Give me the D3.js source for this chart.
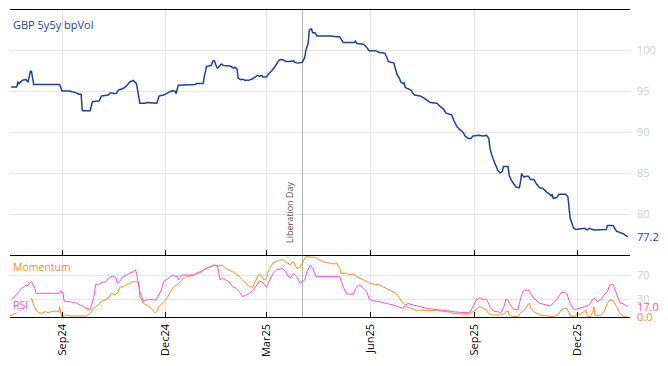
<!DOCTYPE html>
<html><head><meta charset="utf-8">
<script src="https://cdn.jsdelivr.net/npm/d3@7"></script>
<style>body{margin:0;background:#fff}svg{display:block}text{font-family:"Open Sans",sans-serif}</style>
</head><body><svg id="c" width="668" height="366"></svg>
<script>
const seriesName = "GBP 5y5y bpVol";
const volSeries = [["2024-07-18",95.5],["2024-07-23",95.5],["2024-07-24",96.1],["2024-07-25",95.9],["2024-07-28",96.3],["2024-07-31",96.4],["2024-08-02",96.1],["2024-08-04",97.4],["2024-08-05",97.4],["2024-08-07",95.8],["2024-08-30",95.8],["2024-09-01",95.0],["2024-09-08",95.0],["2024-09-10",94.9],["2024-09-13",94.8],["2024-09-16",94.6],["2024-09-18",94.6],["2024-09-19",92.6],["2024-09-26",92.6],["2024-09-28",93.7],["2024-10-04",93.8],["2024-10-06",94.4],["2024-10-12",94.5],["2024-10-14",94.8],["2024-10-17",94.7],["2024-10-19",94.7],["2024-10-21",95.1],["2024-10-25",95.3],["2024-10-28",95.6],["2024-10-31",96.1],["2024-11-03",96.3],["2024-11-06",95.9],["2024-11-09",93.5],["2024-11-13",93.5],["2024-11-16",93.6],["2024-11-24",93.5],["2024-11-26",94.4],["2024-11-30",94.5],["2024-12-04",94.8],["2024-12-07",95.0],["2024-12-10",95.0],["2024-12-11",94.7],["2024-12-13",95.7],["2024-12-28",95.8],["2024-12-29",95.9],["2025-01-04",95.9],["2025-01-05",96.7],["2025-01-07",98.0],["2025-01-11",98.1],["2025-01-13",98.7],["2025-01-14",98.7],["2025-01-16",97.9],["2025-01-17",97.8],["2025-01-20",98.3],["2025-01-22",98.1],["2025-01-28",98.05],["2025-01-31",97.8],["2025-02-01",97.9],["2025-02-03",97.7],["2025-02-04",96.6],["2025-02-06",96.4],["2025-02-09",96.4],["2025-02-10",96.3],["2025-02-13",96.3],["2025-02-17",96.5],["2025-02-21",96.9],["2025-02-23",96.8],["2025-02-25",96.9],["2025-02-26",96.7],["2025-03-01",96.7],["2025-03-03",97.1],["2025-03-06",97.5],["2025-03-09",98.05],["2025-03-12",98.7],["2025-03-13",98.8],["2025-03-16",98.8],["2025-03-18",98.6],["2025-03-22",98.6],["2025-03-25",98.7],["2025-03-26",98.5],["2025-03-29",98.4],["2025-04-02",98.5],["2025-04-04",99.1],["2025-04-05",99.96],["2025-04-07",100.8],["2025-04-08",102.4],["2025-04-10",102.6],["2025-04-11",102.1],["2025-04-13",102.1],["2025-04-15",101.7],["2025-04-26",101.7],["2025-05-05",101.6],["2025-05-08",100.9],["2025-05-18",100.9],["2025-05-19",101.1],["2025-05-20",100.8],["2025-05-26",100.7],["2025-05-29",100.3],["2025-05-31",99.9],["2025-06-06",99.9],["2025-06-09",99.7],["2025-06-14",99.6],["2025-06-16",99.0],["2025-06-17",98.6],["2025-06-22",98.4],["2025-06-23",97.8],["2025-06-25",96.95],["2025-06-27",96.5],["2025-06-28",96.1],["2025-06-30",95.9],["2025-07-01",96.0],["2025-07-02",95.45],["2025-07-04",95.3],["2025-07-07",95.1],["2025-07-10",94.5],["2025-07-15",94.4],["2025-07-18",94.2],["2025-07-21",93.9],["2025-07-24",93.6],["2025-07-30",93.5],["2025-08-02",93.1],["2025-08-05",92.8],["2025-08-07",92.3],["2025-08-12",92.1],["2025-08-14",91.4],["2025-08-17",90.6],["2025-08-20",90.2],["2025-08-22",90.0],["2025-08-24",89.5],["2025-08-27",89.2],["2025-08-29",89.2],["2025-08-31",89.5],["2025-09-05",89.6],["2025-09-09",89.5],["2025-09-12",89.6],["2025-09-14",89.2],["2025-09-15",88.0],["2025-09-17",87.0],["2025-09-19",86.3],["2025-09-22",85.3],["2025-09-24",85.0],["2025-09-26",85.2],["2025-09-27",85.8],["2025-10-01",85.8],["2025-10-02",84.7],["2025-10-04",84.1],["2025-10-05",83.9],["2025-10-08",83.3],["2025-10-11",83.2],["2025-10-12",83.9],["2025-10-13",84.9],["2025-10-15",84.5],["2025-10-17",84.6],["2025-10-19",84.6],["2025-10-21",84.2],["2025-10-24",84.2],["2025-10-26",83.7],["2025-10-29",83.2],["2025-11-01",83.1],["2025-11-04",82.7],["2025-11-07",82.4],["2025-11-08",82.2],["2025-11-09",82.4],["2025-11-10",81.9],["2025-11-13",82.0],["2025-11-15",82.4],["2025-11-21",82.4],["2025-11-23",82.1],["2025-11-25",79.5],["2025-11-28",78.3],["2025-11-30",78.1],["2025-12-08",78.25],["2025-12-10",78.05],["2025-12-12",78.25],["2025-12-16",78.05],["2025-12-27",78.1],["2025-12-28",78.6],["2026-01-02",78.6],["2026-01-05",77.9],["2026-01-09",77.7],["2026-01-11",77.6],["2026-01-15",77.2]];

const rsiSeries = [["2024-07-18",28.4],["2024-07-25",42.2],["2024-07-27",47.8],["2024-07-30",50.6],["2024-07-31",53.4],["2024-08-02",51.7],["2024-08-03",56.1],["2024-08-05",58.9],["2024-08-08",47.8],["2024-08-09",39.5],["2024-08-30",39.5],["2024-08-31",43.9],["2024-09-02",39.5],["2024-09-03",25.6],["2024-09-08",25.6],["2024-09-14",22.8],["2024-09-20",17.3],["2024-09-24",12.8],["2024-09-26",12.8],["2024-09-29",31.1],["2024-10-01",54.5],["2024-10-04",54.5],["2024-10-06",57.3],["2024-10-10",58.9],["2024-10-12",64.5],["2024-10-16",68.4],["2024-10-19",64.5],["2024-10-20",56.1],["2024-10-22",58.9],["2024-10-25",67.3],["2024-10-30",71.7],["2024-11-03",75.6],["2024-11-05",78.4],["2024-11-06",72.8],["2024-11-09",42.2],["2024-11-12",25.6],["2024-11-15",28.4],["2024-11-18",29.5],["2024-11-21",28.4],["2024-11-23",28.4],["2024-11-25",33.9],["2024-11-28",45.0],["2024-11-30",58.9],["2024-12-03",62.8],["2024-12-06",67.3],["2024-12-09",70.0],["2024-12-10",67.3],["2024-12-12",68.4],["2024-12-13",61.7],["2024-12-16",70.0],["2024-12-27",70.0],["2024-12-30",73.9],["2025-01-02",75.6],["2025-01-07",81.1],["2025-01-11",83.9],["2025-01-14",86.7],["2025-01-17",83.9],["2025-01-19",61.7],["2025-01-21",64.5],["2025-01-24",61.7],["2025-01-27",58.9],["2025-01-30",50.6],["2025-02-02",47.8],["2025-02-05",42.2],["2025-02-08",33.9],["2025-02-11",36.7],["2025-02-14",39.5],["2025-02-17",43.9],["2025-02-20",51.7],["2025-02-23",60.6],["2025-02-26",57.3],["2025-03-01",49.5],["2025-03-04",61.7],["2025-03-07",72.8],["2025-03-10",78.4],["2025-03-15",81.1],["2025-03-18",75.6],["2025-03-21",66.2],["2025-03-22",64.5],["2025-03-25",72.8],["2025-03-28",67.3],["2025-03-31",56.1],["2025-04-02",58.9],["2025-04-04",61.7],["2025-04-06",75.6],["2025-04-09",86.7],["2025-04-11",81.1],["2025-04-14",67.3],["2025-04-17",67.3],["2025-05-05",67.3],["2025-05-08",50.6],["2025-05-11",38.4],["2025-05-17",37.8],["2025-05-20",50.6],["2025-05-23",53.4],["2025-05-26",47.8],["2025-05-29",42.2],["2025-05-31",29.5],["2025-06-03",27.3],["2025-06-09",25.6],["2025-06-15",22.8],["2025-06-21",20.0],["2025-06-27",16.1],["2025-06-30",14.5],["2025-07-03",20.0],["2025-07-04",22.8],["2025-07-09",20.0],["2025-07-15",17.3],["2025-07-21",14.5],["2025-07-27",12.8],["2025-08-01",11.7],["2025-08-07",10.6],["2025-08-13",8.9],["2025-08-19",7.8],["2025-08-28",7.3],["2025-08-31",17.3],["2025-09-03",28.4],["2025-09-06",32.3],["2025-09-09",28.4],["2025-09-12",29.5],["2025-09-15",17.3],["2025-09-18",10.0],["2025-09-22",8.4],["2025-09-25",7.8],["2025-09-28",20.0],["2025-09-29",29.5],["2025-10-01",28.4],["2025-10-03",20.0],["2025-10-06",12.8],["2025-10-10",11.7],["2025-10-11",22.8],["2025-10-14",42.2],["2025-10-17",45.0],["2025-10-20",43.9],["2025-10-21",39.5],["2025-10-24",31.1],["2025-10-29",22.8],["2025-11-04",20.0],["2025-11-07",18.4],["2025-11-10",22.8],["2025-11-14",31.1],["2025-11-17",40.6],["2025-11-20",40.6],["2025-11-22",39.5],["2025-11-25",22.8],["2025-11-28",12.8],["2025-11-30",12.8],["2025-12-03",14.5],["2025-12-08",17.3],["2025-12-12",20.0],["2025-12-15",29.5],["2025-12-17",31.1],["2025-12-19",25.6],["2025-12-22",28.4],["2025-12-25",36.7],["2025-12-28",42.2],["2025-12-30",53.4],["2026-01-02",54.5],["2026-01-05",39.5],["2026-01-08",23.9],["2026-01-12",21.1],["2026-01-15",17.0]];

const momentumSeries = [["2024-07-17",1.7],["2024-07-25",8.9],["2024-07-30",17.3],["2024-08-03",25.6],["2024-08-05",31.1],["2024-08-07",20.0],["2024-08-09",11.7],["2024-08-11",7.3],["2024-08-14",6.1],["2024-08-17",8.9],["2024-08-20",7.3],["2024-08-23",8.9],["2024-08-26",10.0],["2024-08-29",8.9],["2024-08-30",17.3],["2024-08-31",6.1],["2024-09-01",0.6],["2024-09-03",1.7],["2024-09-04",3.4],["2024-09-08",1.7],["2024-09-23",1.7],["2024-09-26",6.1],["2024-09-29",14.5],["2024-10-03",20.0],["2024-10-06",25.6],["2024-10-09",28.4],["2024-10-12",31.1],["2024-10-15",39.5],["2024-10-18",36.7],["2024-10-21",42.2],["2024-10-22",49.5],["2024-10-25",50.6],["2024-10-28",53.4],["2024-10-31",56.1],["2024-11-03",58.9],["2024-11-06",58.9],["2024-11-08",56.1],["2024-11-09",33.9],["2024-11-12",22.8],["2024-11-15",20.0],["2024-11-19",14.5],["2024-11-22",7.3],["2024-11-24",8.9],["2024-11-26",17.3],["2024-11-30",25.6],["2024-12-03",31.1],["2024-12-06",42.2],["2024-12-09",50.6],["2024-12-12",53.4],["2024-12-15",58.9],["2024-12-18",64.5],["2024-12-20",67.3],["2024-12-27",70.0],["2024-12-30",72.8],["2025-01-02",73.9],["2025-01-04",78.4],["2025-01-10",83.9],["2025-01-14",86.7],["2025-01-18",85.0],["2025-01-21",86.7],["2025-01-24",81.1],["2025-01-27",78.4],["2025-01-30",75.6],["2025-02-02",71.7],["2025-02-05",67.3],["2025-02-08",61.7],["2025-02-11",56.1],["2025-02-14",50.6],["2025-02-17",49.5],["2025-02-19",58.9],["2025-02-22",70.0],["2025-02-23",71.7],["2025-02-25",67.3],["2025-02-26",64.5],["2025-02-27",61.7],["2025-03-01",64.5],["2025-03-02",72.8],["2025-03-04",81.1],["2025-03-07",90.6],["2025-03-10",92.3],["2025-03-13",95.0],["2025-03-16",95.0],["2025-03-18",92.3],["2025-03-21",88.4],["2025-03-22",86.7],["2025-03-25",92.3],["2025-03-28",81.1],["2025-03-31",82.8],["2025-04-01",86.7],["2025-04-04",97.8],["2025-04-05",100.6],["2025-04-10",99.5],["2025-04-13",99.5],["2025-04-16",96.1],["2025-04-20",92.3],["2025-04-23",90.6],["2025-04-27",89.5],["2025-04-30",88.4],["2025-05-02",90.6],["2025-05-05",81.1],["2025-05-06",72.8],["2025-05-11",72.8],["2025-05-14",70.0],["2025-05-17",71.7],["2025-05-20",67.3],["2025-05-23",64.5],["2025-05-26",61.7],["2025-05-29",58.9],["2025-05-31",56.1],["2025-06-03",55.0],["2025-06-09",53.4],["2025-06-12",50.6],["2025-06-15",47.8],["2025-06-18",45.0],["2025-06-21",42.2],["2025-06-24",39.5],["2025-06-27",31.1],["2025-06-30",22.8],["2025-07-03",17.3],["2025-07-09",12.8],["2025-07-12",10.6],["2025-07-15",11.7],["2025-07-21",10.6],["2025-07-27",10.6],["2025-07-31",11.7],["2025-08-04",8.9],["2025-08-10",8.4],["2025-08-13",6.1],["2025-08-19",5.0],["2025-08-28",5.0],["2025-08-31",8.9],["2025-09-03",12.8],["2025-09-06",17.3],["2025-09-09",14.5],["2025-09-12",11.7],["2025-09-13",7.3],["2025-09-16",3.4],["2025-09-25",3.4],["2025-09-28",6.1],["2025-09-29",8.9],["2025-10-01",10.0],["2025-10-02",3.4],["2025-10-05",0.6],["2025-10-10",0.6],["2025-10-13",8.9],["2025-10-16",12.8],["2025-10-19",21.7],["2025-10-20",22.8],["2025-10-21",14.5],["2025-10-24",8.9],["2025-10-29",3.4],["2025-11-10",0.6],["2025-11-14",3.4],["2025-11-17",11.7],["2025-11-20",14.5],["2025-11-22",14.5],["2025-11-25",3.4],["2025-11-26",0.6],["2025-11-29",0.6],["2025-12-02",6.1],["2025-12-03",3.4],["2025-12-07",8.9],["2025-12-09",11.7],["2025-12-10",3.4],["2025-12-11",0.6],["2025-12-13",0.6],["2025-12-15",8.9],["2025-12-16",17.3],["2025-12-17",3.4],["2025-12-19",2.3],["2025-12-22",3.4],["2025-12-25",8.9],["2025-12-28",22.8],["2025-12-30",28.4],["2026-01-02",27.3],["2026-01-05",17.3],["2026-01-08",6.1],["2026-01-11",1.7],["2026-01-14",0.3],["2026-01-15",0.0]];

const xTickDates = ["2024-09-01","2024-12-01","2025-03-01","2025-06-01","2025-09-01","2025-12-01"];
const xTickLabels = ["Sep24","Dec24","Mar25","Jun25","Sep25","Dec25"];
const volTicks = [80, 85, 90, 95, 100];
const oscTicks = [30, 70];
const eventDate = "2025-04-02";
const eventLabel = "Liberation Day";
const xDomain = ["2024-07-17", "2026-01-17"];

const parse = d3.timeParse("%Y-%m-%d");
const svg = d3.select("#c");
const L = 10, R = 630, T = 9, M = 255, B = 317;
const BLUE = "#1f3f9f", ORANGE = "#ff8c1a", PINK = "#ff4fd8", GRID = "#e5e5e5", TICKTXT = "#cfcfcf";

const x = d3.scaleTime().domain(xDomain.map(parse)).range([L, R]);
const yV = d3.scaleLinear().domain([75, 105]).range([M, T]);
const yO = d3.scaleLinear().domain([0, 103.3]).range([B, M]);

const g = svg.append("g");
g.selectAll(".hv").data(volTicks).join("line").attr("x1", L).attr("x2", R)
  .attr("y1", d => Math.round(yV(d)) + 0.5).attr("y2", d => Math.round(yV(d)) + 0.5).attr("stroke", GRID);
g.selectAll(".ho").data(oscTicks).join("line").attr("x1", L).attr("x2", R)
  .attr("y1", d => Math.round(yO(d)) + 0.5).attr("y2", d => Math.round(yO(d)) + 0.5).attr("stroke", GRID);
g.selectAll(".vg").data(xTickDates).join("line")
  .attr("x1", d => Math.round(x(parse(d))) + 0.5).attr("x2", d => Math.round(x(parse(d))) + 0.5)
  .attr("y1", T).attr("y2", B).attr("stroke", GRID);

const ex = Math.round(x(parse(eventDate))) + 0.5;
g.append("line").attr("x1", ex).attr("x2", ex).attr("y1", T).attr("y2", B).attr("stroke", "#b5b5b5");
g.append("text").attr("transform", `translate(${ex - 10},243) rotate(-90)`)
  .attr("font-size", 9).attr("fill", "#555").text(eventLabel);

const toPts = s => s.map(([d, v]) => [parse(d), v]);
svg.append("path").datum(toPts(volSeries))
  .attr("d", d3.line().x(d => x(d[0])).y(d => yV(d[1])))
  .attr("fill", "none").attr("stroke", BLUE).attr("stroke-width", 1.5).attr("stroke-linejoin", "round");
svg.append("path").datum(toPts(momentumSeries))
  .attr("d", d3.line().x(d => x(d[0])).y(d => yO(d[1])))
  .attr("fill", "none").attr("stroke", ORANGE).attr("stroke-width", 1);
svg.append("path").datum(toPts(rsiSeries))
  .attr("d", d3.line().x(d => x(d[0])).y(d => yO(d[1])))
  .attr("fill", "none").attr("stroke", PINK).attr("stroke-width", 1);

[T, M, B].forEach(yy => svg.append("line").attr("x1", L).attr("x2", R).attr("y1", yy + 0.5).attr("y2", yy + 0.5)
  .attr("stroke", "#000").attr("stroke-width", 1.2));
svg.selectAll(".tk1").data(xTickDates).join("line")
  .attr("x1", d => Math.round(x(parse(d))) + 0.5).attr("x2", d => Math.round(x(parse(d))) + 0.5)
  .attr("y1", M - 5).attr("y2", M).attr("stroke", "#000");
svg.selectAll(".tk2").data(xTickDates).join("line")
  .attr("x1", d => Math.round(x(parse(d))) + 0.5).attr("x2", d => Math.round(x(parse(d))) + 0.5)
  .attr("y1", B - 5).attr("y2", B).attr("stroke", "#000");
svg.selectAll(".xl").data(xTickDates).join("text")
  .attr("transform", d => `translate(${x(parse(d)) + 4},324) rotate(-90)`)
  .attr("text-anchor", "end").attr("font-size", 11).attr("fill", "#000")
  .text((d, i) => xTickLabels[i]);

svg.selectAll(".vl").data(volTicks).join("text").attr("x", 637).attr("y", d => yV(d))
  .attr("dy", "0.35em").attr("font-size", 11).attr("fill", TICKTXT).text(d => d);
svg.selectAll(".ol").data(oscTicks).join("text").attr("x", 637).attr("y", d => yO(d))
  .attr("dy", "0.35em").attr("font-size", 11).attr("fill", TICKTXT).text(d => d);
const lastV = volSeries[volSeries.length - 1][1];
const lastR = rsiSeries[rsiSeries.length - 1][1];
const lastM = momentumSeries[momentumSeries.length - 1][1];
svg.append("text").attr("x", 637).attr("y", yV(lastV)).attr("dy", "0.35em").attr("font-size", 11).attr("fill", BLUE).text(lastV.toFixed(1));
svg.append("text").attr("x", 637).attr("y", yO(lastR)).attr("dy", "0.35em").attr("font-size", 11).attr("fill", PINK).text(lastR.toFixed(1));
svg.append("text").attr("x", 637).attr("y", yO(lastM)).attr("dy", "0.35em").attr("font-size", 11).attr("fill", ORANGE).text(lastM.toFixed(1));

svg.append("text").attr("x", 13).attr("y", 29).attr("font-size", 11).attr("fill", BLUE).text(seriesName);
svg.append("text").attr("x", 13).attr("y", 271).attr("font-size", 10.5).attr("fill", ORANGE).text("Momentum");
svg.append("rect").attr("x", 11).attr("y", 299).attr("width", 20).attr("height", 14).attr("fill", "#fff").attr("opacity", 0.7);
svg.append("text").attr("x", 13).attr("y", 309).attr("font-size", 10.5).attr("fill", PINK).text("RSI");
</script></body></html>
